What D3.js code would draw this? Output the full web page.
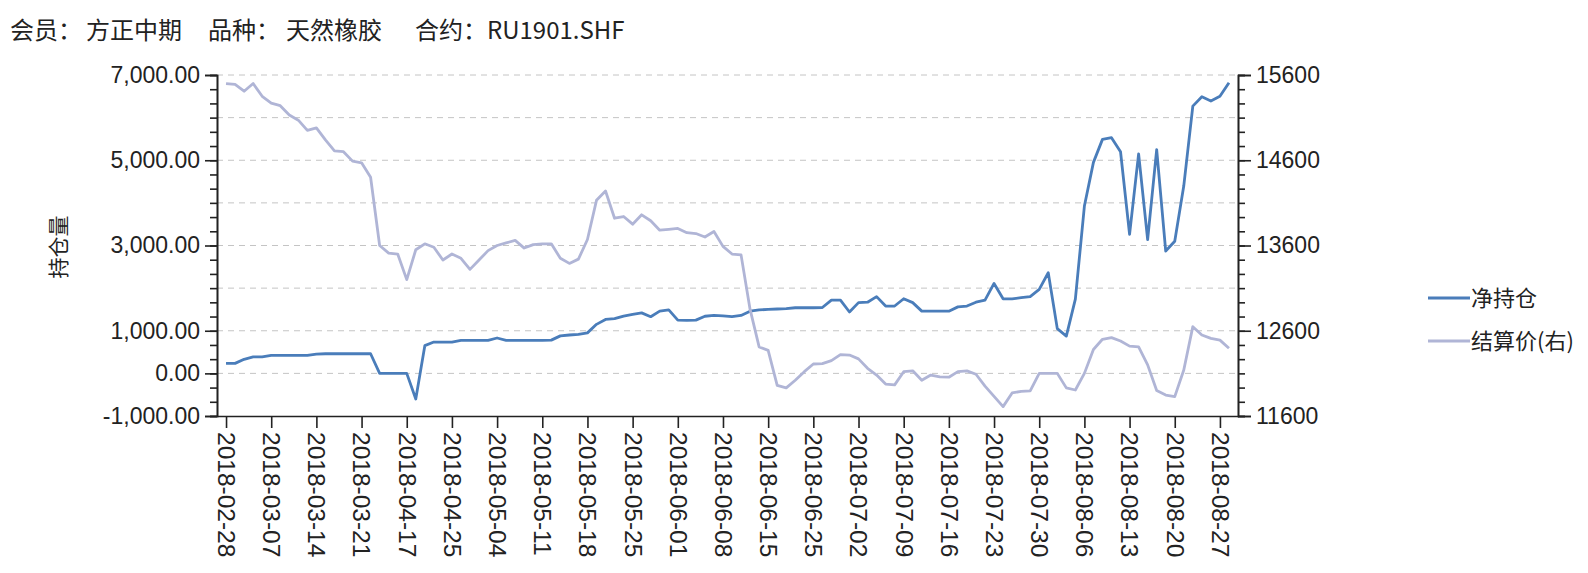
<!DOCTYPE html>
<html>
<head>
<meta charset="utf-8">
<script src="https://cdn.jsdelivr.net/npm/d3@7"></script>
<style>
  body { margin: 0; background: #fff; }
  svg text { font-family: "Liberation Sans", "Noto Sans CJK SC", sans-serif; fill: #222; }
  .cjk { font-family: "Noto Sans CJK SC", "Liberation Sans", sans-serif; }
</style>
</head>
<body>
<svg width="1588" height="573"></svg>
<script>
// dates (trading days on which the member shows up)
var dates = ["2018-02-28","2018-03-01","2018-03-02","2018-03-05","2018-03-06","2018-03-07","2018-03-08","2018-03-09","2018-03-12","2018-03-13",
  "2018-03-14","2018-03-15","2018-03-16","2018-03-19","2018-03-20","2018-03-21","2018-03-22","2018-03-23","2018-04-13","2018-04-16",
  "2018-04-17","2018-04-18","2018-04-19","2018-04-20","2018-04-24","2018-04-25","2018-04-26","2018-04-27","2018-05-02","2018-05-03",
  "2018-05-04","2018-05-07","2018-05-08","2018-05-09","2018-05-10","2018-05-11","2018-05-14","2018-05-15","2018-05-16","2018-05-17",
  "2018-05-18","2018-05-21","2018-05-22","2018-05-23","2018-05-24","2018-05-25","2018-05-28","2018-05-29","2018-05-30","2018-05-31",
  "2018-06-01","2018-06-04","2018-06-05","2018-06-06","2018-06-07","2018-06-08","2018-06-11","2018-06-12","2018-06-13","2018-06-14",
  "2018-06-15","2018-06-19","2018-06-20","2018-06-21","2018-06-22","2018-06-25","2018-06-26","2018-06-27","2018-06-28","2018-06-29",
  "2018-07-02","2018-07-03","2018-07-04","2018-07-05","2018-07-06","2018-07-09","2018-07-10","2018-07-11","2018-07-12","2018-07-13",
  "2018-07-16","2018-07-17","2018-07-18","2018-07-19","2018-07-20","2018-07-23","2018-07-24","2018-07-25","2018-07-26","2018-07-27",
  "2018-07-30","2018-07-31","2018-08-01","2018-08-02","2018-08-03","2018-08-06","2018-08-07","2018-08-08","2018-08-09","2018-08-10",
  "2018-08-13","2018-08-14","2018-08-15","2018-08-16","2018-08-17","2018-08-20","2018-08-21","2018-08-22","2018-08-23","2018-08-24",
  "2018-08-27","2018-08-28"];

// 净持仓 (left axis)
var netPos = [235,235,330,385,385,420,420,420,420,420,
  450,460,460,460,460,460,460,0,0,0,
  0,-600,650,735,735,735,775,775,775,775,
  830,775,775,775,775,775,780,880,900,915,
  950,1150,1265,1285,1345,1385,1420,1330,1460,1490,
  1250,1245,1250,1340,1360,1350,1330,1360,1460,1490,
  1500,1510,1520,1540,1540,1540,1545,1720,1720,1440,
  1660,1670,1800,1580,1580,1750,1660,1460,1460,1460,
  1460,1560,1580,1670,1720,2110,1750,1750,1775,1800,
  1970,2360,1050,875,1740,3925,4950,5490,5530,5200,
  3260,5150,3140,5250,2870,3100,4400,6270,6490,6390,
  6500,6820];

// 结算价 (right axis)
var settle = [15500,15490,15410,15500,15350,15270,15240,15130,15070,14950,
  14980,14840,14710,14700,14590,14570,14400,13600,13510,13500,
  13200,13550,13620,13580,13430,13500,13450,13320,13430,13540,
  13600,13630,13660,13570,13610,13620,13620,13450,13390,13440,
  13670,14130,14240,13920,13940,13850,13960,13890,13780,13790,
  13800,13750,13740,13700,13765,13590,13500,13490,12850,12410,
  12370,11960,11930,12020,12120,12210,12215,12250,12320,12315,
  12270,12160,12080,11975,11965,12120,12130,12020,12080,12060,
  12055,12120,12130,12090,11950,11830,11710,11870,11890,11895,
  12100,12100,12100,11930,11905,12100,12380,12500,12520,12480,
  12420,12410,12200,11900,11846,11827,12140,12648,12550,12510,
  12490,12394];

var leftLabels = [-1000, 0, 1000, 3000, 5000, 7000];
var rightLabels = [11600, 12600, 13600, 14600, 15600];
var seriesNames = ["净持仓", "结算价(右)"];

var svg = d3.select("svg");
var plotL = 217, plotR = 1238, plotT = 75, plotB = 416;

var x = d3.scalePoint().domain(dates).range([plotL, plotR]).padding(1);
var yL = d3.scaleLinear().domain([-1000, 7000]).range([plotB, plotT]);
var yR = d3.scaleLinear().domain([11600, 15600]).range([plotB, plotT]);

var fmt = d3.formatLocale({decimal: ".", thousands: ",", grouping: [3], currency: ["", ""], minus: "-"}).format(",.2f");

// title
var title = svg.append("text").attr("class", "cjk").attr("y", 39).style("font-size", "24px");
title.append("tspan").attr("x", 10).text("会员：");
title.append("tspan").attr("x", 86).text("方正中期");
title.append("tspan").attr("x", 208).text("品种：");
title.append("tspan").attr("x", 286).text("天然橡胶");
title.append("tspan").attr("x", 415).text("合约：RU1901.SHF");

// grid
svg.append("g").selectAll("line")
  .data(d3.range(0, 7001, 1000))
  .enter().append("line")
  .attr("x1", plotL).attr("x2", plotR)
  .attr("y1", function(d) { return yL(d); })
  .attr("y2", function(d) { return yL(d); })
  .attr("stroke", "#c4c4c4")
  .attr("stroke-width", 1)
  .attr("stroke-dasharray", "6,5");

// left axis
svg.append("g").attr("transform", "translate(" + plotL + ",0)")
  .call(d3.axisLeft(yL).tickValues(d3.range(-1000, 7001, 1000 / 3)).tickSize(7).tickFormat(""));
svg.append("g").attr("class", "yl").attr("transform", "translate(" + plotL + ",0)")
  .call(d3.axisLeft(yL).tickValues(leftLabels).tickSize(12).tickPadding(5).tickFormat(fmt));

// right axis
svg.append("g").attr("transform", "translate(" + plotR + ",0)")
  .call(d3.axisRight(yR).tickValues(d3.range(11600, 15601, 1000 / 6)).tickSize(7).tickFormat(""));
svg.append("g").attr("class", "yr").attr("transform", "translate(" + plotR + ",0)")
  .call(d3.axisRight(yR).tickValues(rightLabels).tickSize(13).tickPadding(5).tickFormat(d3.format("d")));

// x axis
var xAxis = svg.append("g").attr("class", "xa").attr("transform", "translate(0," + plotB + ")")
  .call(d3.axisBottom(x).tickValues(dates.filter(function(d, i) { return i % 5 === 0; })).tickSize(12).tickSizeOuter(0));

svg.selectAll(".domain, .tick line").attr("stroke", "#222").attr("stroke-width", 1.6);
svg.selectAll(".tick text").style("font-size", "23px").attr("fill", "#222");

xAxis.selectAll("text")
  .attr("transform", "rotate(90)")
  .attr("x", 16).attr("y", 0).attr("dy", "0.35em")
  .style("text-anchor", "start")
  .style("font-size", "24.5px");

// y title
svg.append("text").attr("class", "cjk")
  .attr("transform", "translate(66,247) rotate(-90)")
  .style("text-anchor", "middle").style("font-size", "21px")
  .text("持仓量");

// lines
var lineL = d3.line().x(function(d, i) { return x(dates[i]); }).y(function(d) { return yL(d); });
var lineR = d3.line().x(function(d, i) { return x(dates[i]); }).y(function(d) { return yR(d); });
var colors = ["#4a7dba", "#b0b5d6"];

svg.append("path").datum(netPos).attr("d", lineL)
  .attr("fill", "none").attr("stroke", colors[0]).attr("stroke-width", 2.8).attr("stroke-linejoin", "round");
svg.append("path").datum(settle).attr("d", lineR)
  .attr("fill", "none").attr("stroke", colors[1]).attr("stroke-width", 2.8).attr("stroke-linejoin", "round");

// legend
var lg = svg.append("g").selectAll("g").data(seriesNames).enter().append("g")
  .attr("transform", function(d, i) { return "translate(1428," + (298 + i * 43) + ")"; });
lg.append("line").attr("x1", 0).attr("x2", 42)
  .attr("stroke", function(d, i) { return colors[i]; }).attr("stroke-width", 3);
lg.append("text").attr("class", "cjk").attr("x", 43).attr("dy", "0.36em")
  .style("font-size", "22px").text(function(d) { return d; });
</script>
</body>
</html>
